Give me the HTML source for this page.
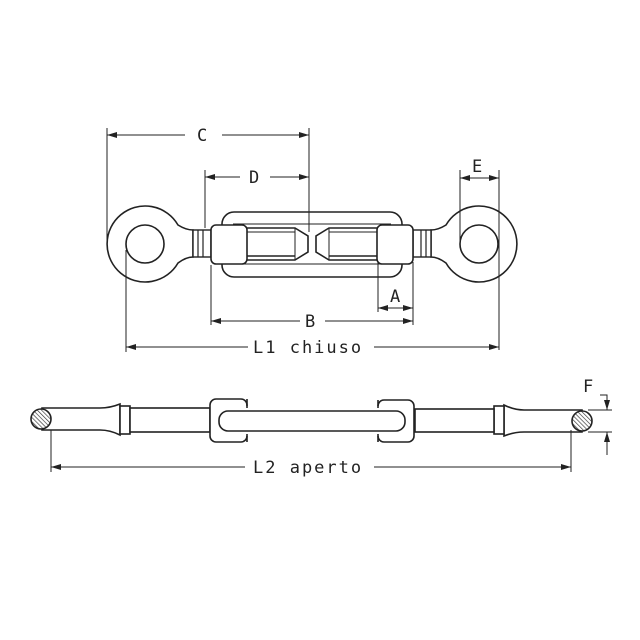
<!DOCTYPE html>
<html><head><meta charset="utf-8"><style>
html,body{margin:0;padding:0;background:#fff}
svg{display:block}
text{font-family:"DejaVu Sans Mono","Liberation Mono",monospace;font-size:17px;letter-spacing:2px;fill:#222}
</style></head><body>
<svg width="640" height="640" viewBox="0 0 640 640" xmlns="http://www.w3.org/2000/svg">
<defs>
<marker id="ar" viewBox="0 0 10 6" refX="10" refY="3" markerWidth="10" markerHeight="6" orient="auto-start-reverse" markerUnits="userSpaceOnUse"><path d="M0,0 L10,3 L0,6 z" fill="#222"/></marker>
<pattern id="hat" width="3" height="3" patternUnits="userSpaceOnUse" patternTransform="rotate(-45)"><rect width="3" height="3" fill="#fff"/><line x1="0" y1="0" x2="0" y2="3" stroke="#333" stroke-width="1.3"/></pattern>
<g id="half">
 <path d="M178,225 Q186,230 193,230 L193,257 Q186,257 178,263 A38,38 0 1 1 178,225 Z" fill="#fff" stroke="#222" stroke-width="1.6"/>
 <circle cx="145" cy="244" r="19" fill="#fff" stroke="#222" stroke-width="1.6"/>
 <rect x="193" y="230" width="18" height="27" fill="#fff" stroke="#222" stroke-width="1.4"/>
 <line x1="198" y1="230" x2="198" y2="257" stroke="#222" stroke-width="1.2"/>
 <line x1="203" y1="230" x2="203" y2="257" stroke="#222" stroke-width="1.2"/>
 <path d="M247,228 L295,228 L308,236 L308,252 L295,260 L247,260" fill="#fff" stroke="#222" stroke-width="1.6"/>
 <line x1="247" y1="232" x2="295" y2="232" stroke="#222" stroke-width="1"/>
 <line x1="247" y1="256" x2="295" y2="256" stroke="#222" stroke-width="1.6"/>
 <line x1="295" y1="228" x2="295" y2="260" stroke="#222" stroke-width="1"/>
 <rect x="211" y="225" width="36" height="39" rx="5" fill="#fff" stroke="#222" stroke-width="1.6"/>
</g>
</defs>
<g fill="none" stroke="#222" stroke-width="1.6">
 <rect x="222" y="212" width="180" height="65" rx="12" fill="#fff"/>
 <rect x="232" y="222" width="160" height="45" fill="#fff" stroke="none"/>
 <line x1="233" y1="224" x2="391" y2="224" stroke-width="1"/>
 <line x1="233" y1="264" x2="391" y2="264" stroke-width="1"/>
</g>
<use href="#half"/>
<use href="#half" transform="translate(624,0) scale(-1,1)"/>
<g stroke="#222" stroke-width="1" fill="none">
 <line x1="107" y1="128" x2="107" y2="244"/>
 <line x1="309" y1="128" x2="309" y2="232"/>
 <line x1="107" y1="135" x2="185" y2="135" marker-start="url(#ar)"/>
 <line x1="222" y1="135" x2="309" y2="135" marker-end="url(#ar)"/>
 <line x1="205" y1="170" x2="205" y2="228"/>
 <line x1="205" y1="177" x2="240" y2="177" marker-start="url(#ar)"/>
 <line x1="270" y1="177" x2="309" y2="177" marker-end="url(#ar)"/>
 <line x1="460" y1="170" x2="460" y2="248"/>
 <line x1="499" y1="170" x2="499" y2="350"/>
 <line x1="460" y1="178" x2="499" y2="178" marker-start="url(#ar)" marker-end="url(#ar)"/>
 <line x1="378" y1="262" x2="378" y2="312"/>
 <line x1="413" y1="262" x2="413" y2="325"/>
 <line x1="378" y1="308" x2="413" y2="308" marker-start="url(#ar)" marker-end="url(#ar)"/>
 <line x1="211" y1="265" x2="211" y2="325"/>
 <line x1="211" y1="321" x2="300" y2="321" marker-start="url(#ar)"/>
 <line x1="325" y1="321" x2="413" y2="321" marker-end="url(#ar)"/>
 <line x1="126" y1="250" x2="126" y2="352"/>
 <line x1="126" y1="347" x2="248" y2="347" marker-start="url(#ar)"/>
 <line x1="374" y1="347" x2="499" y2="347" marker-end="url(#ar)"/>
</g>
<text x="197" y="141">C</text>
<text x="249" y="183">D</text>
<text x="472" y="172">E</text>
<text x="390" y="302">A</text>
<text x="305" y="327">B</text>
<text x="253" y="353">L1 chiuso</text>

<g stroke="#222" stroke-width="1.6" fill="#fff">
 <path d="M42,408 L100,408 Q110,408 120,404 L120,435 Q110,430 100,430 L42,430 Z"/>
 <path d="M582,410 L524,410 Q514,410 504,405 L504,436 Q514,432 524,432 L582,432 Z"/>
 <rect x="120" y="406" width="10" height="28"/>
 <rect x="494" y="406" width="10" height="28"/>
 <rect x="130" y="408" width="80" height="24"/>
 <rect x="415" y="409" width="79" height="23"/>
 <rect x="210" y="399" width="37" height="43" rx="6"/>
 <rect x="378" y="400" width="36" height="42" rx="6"/>
 <rect x="219" y="411" width="186" height="20" rx="9"/>
 <rect x="232" y="406" width="160" height="30" fill="#fff" stroke="none"/>
 <line x1="232" y1="411" x2="392" y2="411"/>
 <line x1="232" y1="431" x2="392" y2="431"/>
 <line x1="247" y1="399" x2="247" y2="408"/>
 <line x1="247" y1="434" x2="247" y2="442"/>
 <line x1="378" y1="400" x2="378" y2="408"/>
 <line x1="378" y1="434" x2="378" y2="442"/>
 <circle cx="41" cy="419" r="10" fill="url(#hat)"/>
 <circle cx="582" cy="421" r="10" fill="url(#hat)"/>
</g>
<g stroke="#222" stroke-width="1" fill="none">
 <line x1="51" y1="430" x2="51" y2="472"/>
 <line x1="571" y1="430" x2="571" y2="472"/>
 <line x1="51" y1="467" x2="245" y2="467" marker-start="url(#ar)"/>
 <line x1="374" y1="467" x2="571" y2="467" marker-end="url(#ar)"/>
 <line x1="588" y1="410" x2="612" y2="410"/>
 <line x1="588" y1="432" x2="612" y2="432"/>
 <polyline points="600,395 607,395 607,410" marker-end="url(#ar)"/>
 <line x1="607" y1="455" x2="607" y2="432" marker-end="url(#ar)"/>
</g>
<text x="583" y="392">F</text>
<text x="253" y="473">L2 aperto</text>
</svg>
</body></html>
